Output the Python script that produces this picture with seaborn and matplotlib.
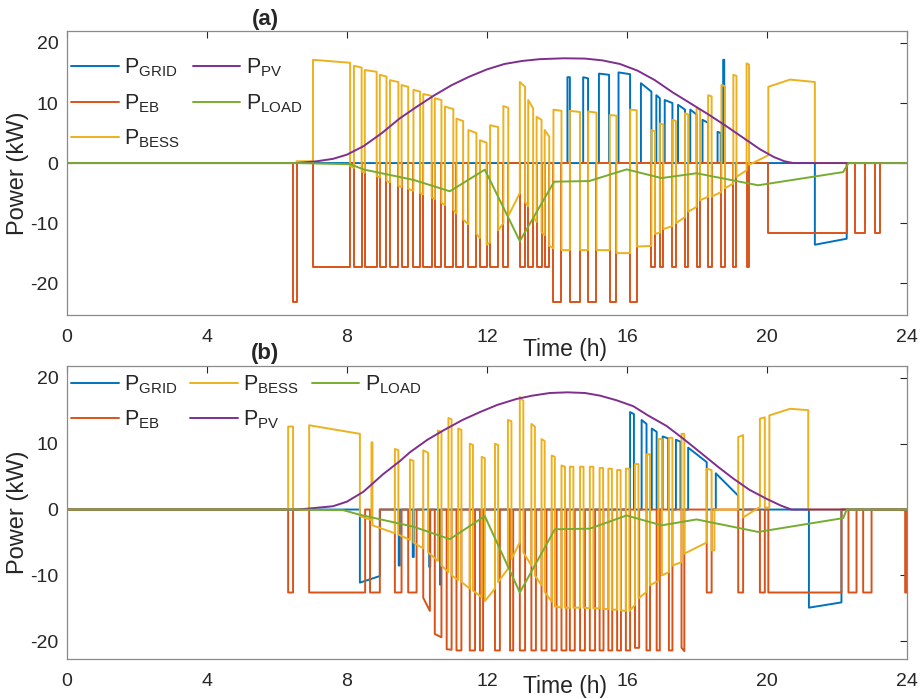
import matplotlib
matplotlib.use("Agg")
import matplotlib.pyplot as plt
import seaborn as sns

# ---------------------------------------------------------------------------
# Data: each pulse is (t_start, t_end, value_start, value_end)
# hours / kW, the series is zero between pulses

# (a)
A_GRID = [
    (14.30, 14.37, 14.3, 14.3), (14.75, 14.89, 14.3, 14.1), (15.20, 15.49, 14.9, 14.7),
    (15.76, 16.09, 15.1, 14.8), (16.40, 16.70, 13.3, 11.9), (16.84, 16.94, 11.3, 10.8),
    (17.08, 17.30, 10.5, 10.0), (17.46, 17.66, 9.7, 8.9), (17.81, 17.99, 8.9, 8.1),
    (18.16, 18.32, 7.2, 6.7), (18.59, 18.68, 5.2, 5.0), (18.75, 18.78, 17.2, 17.2),
    (21.37, 22.28, -13.6, -12.6),
]
A_EB = [
    (6.46, 6.56, -23.2, -23.2), (7.03, 8.09, -17.3, -17.3), (8.20, 8.42, -17.3, -17.3),
    (8.51, 8.85, -17.3, -17.3), (8.94, 9.13, -17.3, -17.3), (9.23, 9.47, -17.3, -17.3),
    (9.56, 9.75, -17.3, -17.3), (9.90, 10.09, -17.3, -17.3), (10.18, 10.42, -17.3, -17.3),
    (10.51, 10.70, -17.3, -17.3), (10.80, 11.04, -17.3, -17.3), (11.13, 11.32, -17.3, -17.3),
    (11.47, 11.70, -17.3, -17.3), (11.80, 11.99, -17.3, -17.3), (12.09, 12.32, -17.3, -17.3),
    (12.47, 12.61, -17.3, -17.3), (12.94, 13.09, -17.3, -17.3), (13.18, 13.32, -17.3, -17.3),
    (13.42, 13.56, -17.3, -17.3), (13.65, 13.78, -17.3, -17.3),
    (13.90, 14.13, -23.2, -23.2), (14.37, 14.66, -23.2, -23.2), (14.89, 15.13, -23.2, -23.2),
    (15.51, 15.70, -23.2, -23.2), (16.09, 16.28, -23.2, -23.2),
    (16.70, 16.80, -17.3, -17.3), (16.94, 17.04, -17.3, -17.3), (17.30, 17.40, -17.3, -17.3),
    (17.66, 17.75, -17.3, -17.3), (17.99, 18.09, -17.3, -17.3), (18.32, 18.42, -17.3, -17.3),
    (18.70, 18.80, -17.3, -17.3), (19.04, 19.13, -17.3, -17.3), (19.42, 19.49, -17.3, -17.3),
    (20.04, 22.28, -11.7, -11.7), (22.51, 22.80, -11.7, -11.7), (23.09, 23.23, -11.7, -11.7),
]
A_BESS = [
    (6.56, 7.03, 0.3, 0.3), (7.03, 8.09, 17.2, 16.7), (8.09, 8.20, -0.5, -0.8),
    (8.20, 8.42, 16.2, 15.9), (8.42, 8.51, -1.4, -1.6), (8.51, 8.85, 15.5, 15.2),
    (8.85, 8.94, -2.2, -2.4), (8.94, 9.13, 14.7, 14.4), (9.13, 9.23, -3.0, -3.2),
    (9.23, 9.47, 13.8, 13.5), (9.47, 9.56, -3.8, -4.0), (9.56, 9.75, 13.0, 12.7),
    (9.75, 9.90, -4.3, -4.6), (9.90, 10.09, 12.2, 11.9), (10.09, 10.18, -5.0, -5.2),
    (10.18, 10.42, 11.5, 11.2), (10.42, 10.51, -5.7, -6.0), (10.51, 10.70, 10.8, 10.5),
    (10.70, 10.80, -6.6, -7.0), (10.80, 11.04, 9.4, 9.0), (11.04, 11.13, -7.8, -8.4),
    (11.13, 11.32, 7.4, 7.0), (11.32, 11.47, -9.4, -10.2), (11.47, 11.70, 5.5, 5.0),
    (11.70, 11.80, -11.8, -12.5), (11.80, 11.99, 3.8, 3.4), (11.99, 12.09, -13.6, -13.2),
    (12.09, 12.32, 6.3, 6.0), (12.32, 12.47, -11.2, -10.0), (12.47, 12.61, 9.5, 9.2),
    (12.61, 12.94, -8.8, -5.0), (12.94, 13.09, 13.5, 12.7), (13.09, 13.18, -6.5, -7.2),
    (13.18, 13.32, 10.5, 9.1), (13.32, 13.42, -9.0, -9.8), (13.42, 13.56, 7.7, 7.2),
    (13.56, 13.65, -11.5, -12.0), (13.65, 13.78, 5.5, 4.4), (13.78, 13.90, -13.8, -14.2),
    (13.90, 14.13, 8.9, 8.7), (14.13, 14.37, -14.5, -14.5), (14.37, 14.66, 8.7, 8.5),
    (14.66, 14.89, -14.5, -14.5), (14.89, 15.13, 8.6, 8.4), (15.13, 15.51, -14.5, -14.5),
    (15.51, 15.70, 8.0, 7.9), (15.70, 16.09, -15.0, -15.0), (16.09, 16.28, 8.9, 8.8),
    (16.28, 16.70, -13.9, -13.8), (16.70, 16.80, 5.5, 5.3), (16.80, 16.94, -11.8, -11.6),
    (16.94, 17.04, 6.6, 6.4), (17.04, 17.30, -11.0, -10.5), (17.30, 17.40, 7.2, 7.0),
    (17.40, 17.66, -10.0, -9.0), (17.66, 17.75, 8.3, 8.1), (17.75, 17.99, -8.1, -7.3),
    (17.99, 18.09, 9.1, 8.9), (18.09, 18.32, -6.2, -5.6), (18.32, 18.42, 11.3, 11.1),
    (18.42, 18.70, -5.6, -4.8), (18.70, 18.80, 13.0, 12.8), (18.80, 19.04, -4.2, -3.4),
    (19.04, 19.13, 14.7, 14.5), (19.13, 19.42, -2.3, -1.2), (19.42, 19.49, 16.6, 16.4),
    (19.49, 20.04, -0.3, 1.3), (20.04, 20.66, 12.7, 13.9), (20.66, 21.37, 13.9, 13.5),
]
A_PV_T = [0, 6.56, 7.14, 7.6, 8.0, 8.47, 9.0, 9.5, 10.0, 10.5, 11.0, 11.5, 12.0, 12.5,
          13.0, 13.5, 14.2, 14.8, 15.3, 15.8, 16.3, 16.8, 17.3, 17.8, 18.3, 18.8, 19.3,
          19.8, 20.2, 20.5, 20.75, 24]
A_PV_V = [0, 0, 0.3, 0.7, 1.4, 2.8, 5.0, 7.4, 9.4, 11.3, 13.0, 14.4, 15.6, 16.5,
          17.0, 17.3, 17.45, 17.4, 17.1, 16.5, 15.4, 13.8, 11.8, 10.0, 8.2, 6.3, 4.3,
          2.3, 1.0, 0.3, 0, 0]
A_LOAD_T = [0, 6.6, 8.09, 8.5, 9.9, 10.94, 11.94, 12.94, 13.92, 14.92, 15.99, 16.99,
            17.99, 19.75, 22.18, 22.33, 24]
A_LOAD_V = [0, 0, -0.2, -1.1, -2.8, -4.7, -1.1, -13.0, -3.1, -3.0, -1.05, -2.5,
            -1.7, -3.7, -1.5, 0, 0]

# (b)
B_GRID = [
    (8.37, 8.94, -11.1, -10.1), (9.48, 9.51, -8.5, -8.5), (9.88, 9.91, -7.2, -7.2),
    (10.35, 10.38, -8.7, -8.7), (10.66, 10.69, -11.4, -11.4),
    (16.09, 16.20, 14.8, 14.5), (16.42, 16.56, 13.6, 13.0), (16.71, 16.85, 12.3, 11.8),
    (17.02, 17.18, 11.1, 10.8), (17.40, 17.53, 10.6, 10.3), (17.75, 18.28, 9.4, 7.2),
    (18.54, 19.18, 5.5, 2.1), (21.20, 22.13, -14.9, -14.1),
]
B_EB = [
    (6.32, 6.46, -12.6, -12.6), (6.92, 8.52, -12.6, -12.6), (8.66, 8.94, -12.6, -12.6),
    (9.37, 9.56, -12.6, -12.6), (9.75, 9.99, -12.6, -12.6), (10.18, 10.37, -13.4, -15.4),
    (10.51, 10.70, -18.9, -19.4), (10.85, 10.99, -21.2, -21.3), (11.13, 11.27, -21.4, -21.4),
    (11.51, 11.66, -21.4, -21.4), (11.80, 11.89, -21.4, -21.4), (12.23, 12.37, -21.4, -21.4),
    (12.66, 12.75, -21.4, -21.4), (12.94, 13.09, -21.4, -21.4), (13.27, 13.40, -21.4, -21.4),
    (13.56, 13.70, -21.4, -21.4), (13.85, 13.99, -21.4, -21.4), (14.13, 14.27, -21.4, -21.4),
    (14.37, 14.51, -21.4, -21.4), (14.66, 14.80, -21.4, -21.4), (14.94, 15.09, -21.4, -21.4),
    (15.22, 15.33, -21.4, -21.4), (15.47, 15.58, -21.4, -21.4), (15.72, 15.83, -21.4, -21.4),
    (15.97, 16.09, -21.4, -21.4), (16.23, 16.35, -21.0, -21.0), (16.56, 16.66, -21.4, -21.4),
    (16.85, 16.94, -21.4, -21.4), (17.20, 17.30, -21.4, -21.4), (17.56, 17.64, -21.0, -21.5),
    (18.28, 18.42, -12.6, -12.6), (19.18, 19.32, -12.6, -12.6), (19.80, 19.94, -12.6, -12.6),
    (20.04, 22.13, -12.6, -12.6), (22.33, 22.56, -12.6, -12.6), (22.75, 22.99, -12.6, -12.6),
    (23.95, 24.00, -12.6, -12.6),
]
B_BESS = [
    (6.32, 6.46, 12.6, 12.6), (6.92, 8.37, 12.8, 11.5), (8.37, 8.70, -1.0, -1.6),
    (8.70, 8.73, 10.2, 10.2), (8.73, 9.37, -2.4, -3.6), (9.37, 9.47, 9.2, 9.0),
    (9.47, 9.80, -3.8, -4.6), (9.80, 9.90, 7.6, 7.4), (9.90, 10.18, -5.0, -5.9),
    (10.18, 10.32, 9.0, 8.6), (10.32, 10.60, -6.5, -7.8), (10.60, 10.70, 12.0, 11.8),
    (10.70, 10.90, -8.5, -9.5), (10.90, 10.99, 13.9, 13.7), (10.99, 11.18, -10.0, -10.7),
    (11.18, 11.27, 12.3, 12.1), (11.27, 11.51, -11.0, -12.0), (11.51, 11.60, 10.0, 9.8),
    (11.60, 11.85, -12.3, -13.3), (11.85, 11.94, 8.0, 7.8), (11.94, 12.23, -13.9, -12.0),
    (12.23, 12.32, 10.0, 9.8), (12.32, 12.60, -11.0, -9.0), (12.60, 12.70, 13.6, 13.4),
    (12.70, 12.94, -7.5, -5.0), (12.94, 13.04, 17.1, 16.5), (13.04, 13.27, -6.5, -8.5),
    (13.27, 13.37, 13.0, 12.6), (13.37, 13.56, -10.0, -11.5), (13.56, 13.65, 10.7, 10.4),
    (13.65, 13.85, -12.5, -14.0), (13.85, 13.94, 8.2, 8.0), (13.94, 14.13, -14.7, -14.9),
    (14.13, 14.23, 6.7, 6.5), (14.23, 14.37, -14.9, -14.9), (14.37, 14.47, 6.5, 6.5),
    (14.47, 14.66, -14.9, -14.9), (14.66, 14.76, 6.5, 6.5), (14.76, 14.94, -14.9, -15.0),
    (14.94, 15.04, 6.5, 6.5), (15.04, 15.22, -15.0, -15.0), (15.22, 15.32, 6.3, 6.3),
    (15.32, 15.47, -15.1, -15.1), (15.47, 15.57, 6.2, 6.2), (15.57, 15.72, -15.2, -15.2),
    (15.72, 15.82, 6.0, 6.0), (15.82, 15.97, -15.3, -15.4), (15.97, 16.07, 6.2, 6.2),
    (16.07, 16.23, -15.4, -14.5), (16.23, 16.33, 6.9, 6.9), (16.33, 16.56, -13.5, -12.5),
    (16.56, 16.66, 8.4, 8.4), (16.66, 16.90, -11.5, -10.8), (16.90, 17.00, 10.7, 10.7),
    (17.00, 17.20, -10.0, -9.5), (17.20, 17.30, 10.9, 10.9), (17.30, 17.56, -8.5, -8.0),
    (17.56, 17.64, 11.5, 11.5), (17.64, 18.28, -6.7, -5.0), (18.28, 18.42, 6.2, 6.0),
    (18.42, 18.50, -6.2, -6.2), (19.18, 19.32, 11.0, 11.3), (19.32, 19.80, -1.2, 0.4),
    (19.80, 19.94, 13.8, 14.0), (19.94, 20.07, 0.3, 0.3), (20.07, 20.66, 14.3, 15.3),
    (20.66, 21.18, 15.3, 15.1),
]
B_PV_T = [0, 6.6, 7.6, 8.0, 8.47, 9.04, 9.5, 9.8, 10.3, 10.75, 11.3, 11.8, 12.3, 12.85,
          13.3, 13.8, 14.3, 14.8, 15.23, 15.7, 16.18, 16.6, 17.13, 17.6, 18.09, 18.6,
          19.04, 19.5, 20.0, 20.4, 20.7, 24]
B_PV_V = [0, 0, 0.5, 1.2, 2.7, 5.4, 7.3, 8.7, 10.6, 12.0, 13.6, 14.8, 15.9, 16.8,
          17.3, 17.7, 17.8, 17.7, 17.3, 16.6, 15.7, 14.3, 12.7, 10.8, 8.7, 6.5,
          4.7, 3.0, 1.6, 0.6, 0, 0]
B_LOAD_T = [0, 6.6, 7.9, 8.37, 9.9, 10.94, 11.94, 12.94, 13.94, 14.94, 15.99, 16.99,
            17.99, 19.75, 22.18, 22.28, 24]
B_LOAD_V = [0, 0, -0.1, -0.8, -2.6, -4.5, -1.0, -12.6, -3.0, -2.9, -0.9, -2.4,
            -1.5, -3.4, -1.3, 0, 0]

LABELS = ["GRID", "EB", "BESS", "PV", "LOAD"]
COLORS = ["#0072BD", "#D95319", "#EDB120", "#7E2F8E", "#77AC30"]


def pulse_trace(segs):
    """Turn a list of pulses into a polyline that sits on zero between them."""
    xs, ys = [0.0], [0.0]
    end = None
    for t0, t1, v0, v1 in segs:
        if end is None or t0 > end + 1e-6:
            if end is not None:
                xs.append(end)
                ys.append(0.0)
            xs.append(t0)
            ys.append(0.0)
        xs += [t0, t1]
        ys += [v0, v1]
        end = t1
    xs += [end, 24.0]
    ys += [0.0, 0.0]
    return xs, ys


sns.set_theme(style="white")
plt.rcParams["font.family"] = ["Liberation Sans", "DejaVu Sans"]
plt.rcParams["mathtext.default"] = "regular"
plt.rcParams["axes.unicode_minus"] = False

fig = plt.figure(figsize=(9.21, 6.99), dpi=100)
ax_a = fig.add_axes([0.0727, 0.5494, 0.912, 0.4063])
ax_b = fig.add_axes([0.0727, 0.0572, 0.912, 0.4192])

panels = [
    (ax_a, [pulse_trace(A_GRID), pulse_trace(A_EB), pulse_trace(A_BESS),
            (A_PV_T, A_PV_V), (A_LOAD_T, A_LOAD_V)], (-25.3, 22), "(a)", 2, 0.925, 1.039),
    (ax_b, [pulse_trace(B_GRID), pulse_trace(B_EB), pulse_trace(B_BESS),
            (B_PV_T, B_PV_V), (B_LOAD_T, B_LOAD_V)], (-22.7, 21.8), "(b)", 3, 0.99, 1.044),
]

for ax, series, ylim, title, ncol, leg_y, title_y in panels:
    for (xs, ys), name, col in zip(series, LABELS, COLORS):
        sns.lineplot(x=xs, y=ys, ax=ax, sort=False, estimator=None, color=col,
                     lw=1.4, label=r"P$_{\mathregular{%s}}$" % name)

    ax.set_xlim(0, 24)
    ax.set_ylim(*ylim)
    ax.set_xticks(range(0, 25, 4))
    ax.set_yticks([-20, -10, 0, 10, 20])
    ax.tick_params(direction="in", top=True, right=True, length=5, width=0.8,
                   labelsize=14, colors="#262626")
    ax.tick_params(axis="x", pad=10)
    ax.tick_params(axis="y", pad=6)
    for sp in ax.spines.values():
        sp.set_color("#8a8a8a")
        sp.set_linewidth(0.9)

    ax.set_ylabel("Power (kW)", fontsize=17, color="#262626")
    ax.set_xlabel("Time (h)", fontsize=16.5, color="#262626")
    ax.text(0.236, title_y, title, transform=ax.transAxes, ha="center", va="center",
            fontsize=16, fontweight="bold")

    ax.legend(loc="upper left", bbox_to_anchor=(0, leg_y), ncol=ncol, frameon=False,
              fontsize=15.5, handlelength=2.2, handletextpad=0.25, columnspacing=0.6,
              labelspacing=0.6, borderaxespad=0.0, borderpad=0.2)

ax_a.xaxis.set_label_coords(0.593, -0.08)
ax_b.xaxis.set_label_coords(0.593, -0.055)
ax_a.yaxis.set_label_coords(-0.045, 0.5)
ax_b.yaxis.set_label_coords(-0.045, 0.5)

fig.savefig("out.png", dpi=100)
